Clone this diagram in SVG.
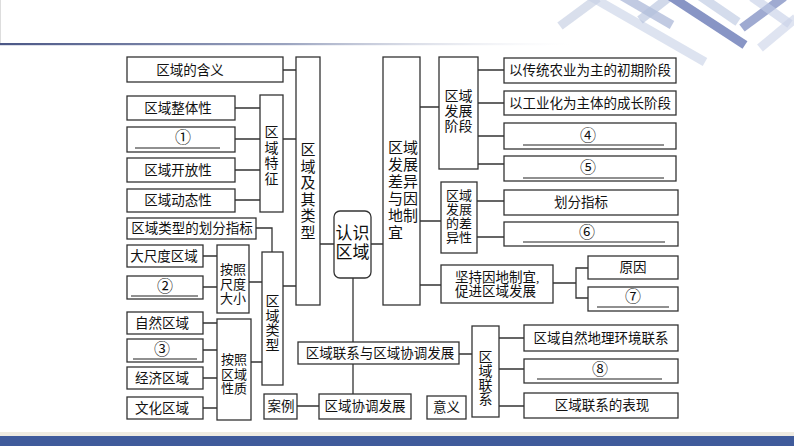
<svg xmlns="http://www.w3.org/2000/svg" width="794" height="446" viewBox="0 0 794 446">
<defs>
<linearGradient id="hdr" x1="0" y1="0" x2="1" y2="0">
<stop offset="0" stop-color="#4b5786"/>
<stop offset="0.5" stop-color="#9aa3bf"/>
<stop offset="1" stop-color="#e6e8ef" stop-opacity="0"/>
</linearGradient>
<style>
.b{fill:#fff;stroke:#333;stroke-width:1.3}
.c{fill:none;stroke:#333;stroke-width:1.3}
.u{stroke:#222;stroke-width:1.2}
text{font-family:"Liberation Serif","Noto Sans CJK SC",serif;fill:#111;font-size:13.5px;dominant-baseline:central}
.m{text-anchor:middle}
.n{text-anchor:middle;font-size:16px}
.v{font-size:14px;text-anchor:middle}
.w{font-size:13px;text-anchor:middle}
.s{stroke-linecap:butt;fill:none}
</style>
</defs>
<rect width="794" height="446" fill="#fff"/>
<g id="decor">
<line x1="0.5" y1="0" x2="0.5" y2="44" stroke="#ddd" stroke-width="1"/>
<rect x="0" y="43" width="570" height="2.2" fill="url(#hdr)"/>
<g class="s" stroke-width="9">
<line x1="560" y1="26" x2="598" y2="-2" stroke="#c9d2e4" stroke-opacity="0.7"/>
<line x1="590" y1="-4" x2="705" y2="62" stroke="#c6d0e6" stroke-opacity="0.6"/>
<line x1="622" y1="-4" x2="672" y2="25" stroke="#a7b3d6" stroke-opacity="0.7"/>
<line x1="640" y1="20" x2="668" y2="-2" stroke="#b3bfdc" stroke-opacity="0.6"/>
<line x1="670" y1="-4" x2="745" y2="45" stroke="#7383bb" stroke-opacity="0.85"/>
<line x1="700" y1="-4" x2="738" y2="22" stroke="#b8c4e0" stroke-opacity="0.6"/>
<line x1="742" y1="28" x2="784" y2="-3" stroke="#8795c6" stroke-opacity="0.8"/>
<line x1="752" y1="-3" x2="790" y2="24" stroke="#c3cde6" stroke-opacity="0.6"/>
<line x1="760" y1="48" x2="796" y2="18" stroke="#c9d2e8" stroke-opacity="0.6"/>
</g>
<rect x="0" y="432" width="794" height="4" fill="#efebe1"/>
<rect x="0" y="436" width="794" height="10" fill="#405b9b"/>
</g>

<g id="connectors">
<path class="c" d="M283,70H296 M235,108H260 M235,139H260 M235,170H260 M235,200H260 M283,139H296"/>
<path class="c" d="M256,228H272V252 M203,256H217 M203,287H217 M249,282H263 M283,286H296"/>
<path class="c" d="M203,323H217 M203,350H217 M203,378H217 M203,408H217 M251,362H262"/>
<path class="c" d="M320,244H334 M371,244H383 M353,278V342 M459,354H472 M353,364V394 M297,406H319"/>
<path class="c" d="M420,107H439 M420,221H441 M420,285H441"/>
<path class="c" d="M478,70H504 M478,103H504 M478,136H504 M478,164H504 M477,201H504 M477,237H504"/>
<path class="c" d="M553,283H576 M588,268H576V298H588"/>
<path class="c" d="M499,338H524 M499,369H524 M499,406H524"/>
</g>

<g id="n_hanyi"><rect class="b" x="127" y="57" width="156" height="25"/><text x="190" y="70" class="m">区域的含义</text></g>
<g id="n_zhengti"><rect class="b" x="127" y="96" width="108" height="24"/><text x="178" y="108" class="m">区域整体性</text></g>
<g id="n_1"><rect class="b" x="127" y="127" width="108" height="25"/><text x="183" y="137" class="n">①</text><line class="u" x1="135" y1="148" x2="220" y2="148"/></g>
<g id="n_kaifang"><rect class="b" x="127" y="158" width="108" height="24"/><text x="178" y="170" class="m">区域开放性</text></g>
<g id="n_dongtai"><rect class="b" x="127" y="189" width="108" height="23"/><text x="178" y="200" class="m">区域动态性</text></g>
<g id="n_tezheng"><rect class="b" x="260" y="95" width="23" height="117"/><text class="v"><tspan x="271.5" y="132">区</tspan><tspan x="271.5" y="147.5">域</tspan><tspan x="271.5" y="163">特</tspan><tspan x="271.5" y="178.5">征</tspan></text></g>
<g id="n_jiqileixing"><rect class="b" x="296" y="57" width="24" height="248"/><text class="v" style="font-size:15px"><tspan x="308" y="150">区</tspan><tspan x="308" y="166.5">域</tspan><tspan x="308" y="183">及</tspan><tspan x="308" y="199.5">其</tspan><tspan x="308" y="216">类</tspan><tspan x="308" y="232.5">型</tspan></text></g>
<g id="n_huafen"><rect class="b" x="127" y="218" width="129" height="21"/><text x="192" y="228.5" class="m">区域类型的划分指标</text></g>
<g id="n_dachidu"><rect class="b" x="127" y="245" width="76" height="22"/><text x="164" y="256" class="m">大尺度区域</text></g>
<g id="n_2"><rect class="b" x="127" y="276" width="76" height="23"/><text x="165" y="286" class="n">②</text><line class="u" x1="131" y1="296" x2="198" y2="296"/></g>
<g id="n_chidu"><rect class="b" x="217" y="245" width="32" height="68"/><text class="w"><tspan x="233" y="269">按照</tspan><tspan x="233" y="283.5">尺度</tspan><tspan x="233" y="298">大小</tspan></text></g>
<g id="n_leixing"><rect class="b" x="262" y="252" width="21" height="133"/><text class="v"><tspan x="272.5" y="301">区</tspan><tspan x="272.5" y="315.5">域</tspan><tspan x="272.5" y="330">类</tspan><tspan x="272.5" y="344.5">型</tspan></text></g>
<g id="n_ziran"><rect class="b" x="127" y="312" width="76" height="22"/><text x="162" y="323" class="m">自然区域</text></g>
<g id="n_3"><rect class="b" x="127" y="339" width="76" height="23"/><text x="162" y="349" class="n">③</text><line class="u" x1="133" y1="359" x2="197" y2="359"/></g>
<g id="n_jingji"><rect class="b" x="127" y="367" width="76" height="22"/><text x="162" y="378" class="m">经济区域</text></g>
<g id="n_wenhua"><rect class="b" x="127" y="397" width="76" height="22"/><text x="162" y="408" class="m">文化区域</text></g>
<g id="n_xingzhi"><rect class="b" x="217" y="319" width="34" height="101"/><text class="w"><tspan x="234" y="359">按照</tspan><tspan x="234" y="373.5">区域</tspan><tspan x="234" y="388">性质</tspan></text></g>

<g id="n_renshi"><rect class="b" x="334" y="211" width="37" height="67" rx="6"/><text class="v" style="font-size:17px"><tspan x="352.5" y="233">认识</tspan><tspan x="352.5" y="252">区域</tspan></text></g>

<g id="n_chayi"><rect class="b" x="383" y="57" width="37" height="248"/><text style="font-size:15px"><tspan x="388" y="148">区域</tspan><tspan x="388" y="165">发展</tspan><tspan x="388" y="182">差异</tspan><tspan x="388" y="199">与因</tspan><tspan x="388" y="216">地制</tspan><tspan x="388" y="233">宜</tspan></text></g>
<g id="n_jieduan"><rect class="b" x="439" y="57" width="39" height="112"/><text class="v"><tspan x="458.5" y="96">区域</tspan><tspan x="458.5" y="111">发展</tspan><tspan x="458.5" y="126">阶段</tspan></text></g>
<g id="n_chuqi"><rect class="b" x="504" y="58" width="172" height="25"/><text x="590" y="70.5" class="m">以传统农业为主的初期阶段</text></g>
<g id="n_chengzhang"><rect class="b" x="504" y="91" width="172" height="24"/><text x="590" y="103" class="m">以工业化为主体的成长阶段</text></g>
<g id="n_4"><rect class="b" x="504" y="123" width="172" height="26"/><text x="588" y="135" class="n">④</text><line class="u" x1="523" y1="145" x2="664" y2="145"/></g>
<g id="n_5"><rect class="b" x="504" y="156" width="172" height="25"/><text x="588" y="167" class="n">⑤</text><line class="u" x1="523" y1="178" x2="664" y2="178"/></g>
<g id="n_chayixing"><rect class="b" x="441" y="182" width="36" height="71"/><text class="w"><tspan x="459" y="195">区域</tspan><tspan x="459" y="209">发展</tspan><tspan x="459" y="223">的差</tspan><tspan x="459" y="237">异性</tspan></text></g>
<g id="n_zhibiao"><rect class="b" x="504" y="190" width="174" height="25"/><text x="581" y="202" class="m">划分指标</text></g>
<g id="n_6"><rect class="b" x="504" y="222" width="174" height="24"/><text x="587" y="232" class="n">⑥</text><line class="u" x1="523" y1="242" x2="665" y2="242"/></g>
<g id="n_jianchi"><rect class="b" x="441" y="265" width="112" height="38"/><text><tspan x="455" y="277">坚持因地制宜,</tspan><tspan x="455" y="291">促进区域发展</tspan></text></g>
<g id="n_yuanyin"><rect class="b" x="588" y="256" width="90" height="23"/><text x="633" y="267.5" class="m">原因</text></g>
<g id="n_7"><rect class="b" x="588" y="287" width="90" height="24"/><text x="633" y="296" class="n">⑦</text><line class="u" x1="597" y1="307" x2="669" y2="307"/></g>

<g id="n_lianxi_xietiao"><rect class="b" x="298" y="342" width="161" height="22"/><text x="380" y="353" class="m">区域联系与区域协调发展</text></g>
<g id="n_anli"><rect class="b" x="264" y="394" width="33" height="25"/><text x="281" y="406" class="m">案例</text></g>
<g id="n_xietiao"><rect class="b" x="319" y="394" width="92" height="25"/><text x="365" y="406" class="m">区域协调发展</text></g>
<g id="n_yiyi"><rect class="b" x="427" y="396" width="39" height="23"/><text x="446.5" y="407.5" class="m">意义</text></g>
<g id="n_lianxi"><rect class="b" x="472" y="326" width="27" height="91"/><text class="v"><tspan x="485.5" y="357">区</tspan><tspan x="485.5" y="371">域</tspan><tspan x="485.5" y="385">联</tspan><tspan x="485.5" y="399">系</tspan></text></g>
<g id="n_huanjing"><rect class="b" x="524" y="325" width="154" height="26"/><text x="601" y="338" class="m">区域自然地理环境联系</text></g>
<g id="n_8"><rect class="b" x="524" y="359" width="154" height="24"/><text x="600" y="369" class="n">⑧</text><line class="u" x1="537" y1="379" x2="662" y2="379"/></g>
<g id="n_biaoxian"><rect class="b" x="524" y="393" width="154" height="25"/><text x="602" y="405.5" class="m">区域联系的表现</text></g>
</svg>
